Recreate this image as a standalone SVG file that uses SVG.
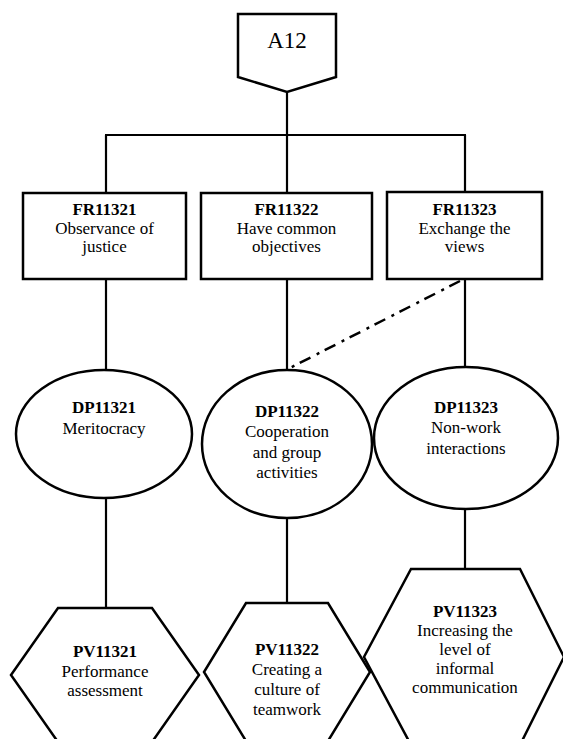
<svg xmlns="http://www.w3.org/2000/svg" width="563" height="739" viewBox="0 0 563 739">
  <style>
    .shape { fill: #fff; stroke: #000; stroke-width: 2.5; }
    .link { stroke: #000; stroke-width: 2.2; fill: none; }
    .dashdot { stroke: #000; stroke-width: 2.5; fill: none; stroke-dasharray: 12 6 3 7; }
    text { font-family: "Liberation Serif", "Times New Roman", "DejaVu Serif", serif; font-size: 17px; text-anchor: middle; fill: #000; }
    .id { font-weight: bold; }
    .top { font-size: 23px; }
  </style>
  <rect width="563" height="739" fill="#fff"/>

  <!-- connectors -->
  <g id="connectors">
    <line class="link" x1="287" y1="92" x2="287" y2="135"/>
    <line class="link" x1="105" y1="135" x2="466" y2="135"/>
    <line class="link" x1="106" y1="135" x2="106" y2="193"/>
    <line class="link" x1="287" y1="135" x2="287" y2="192"/>
    <line class="link" x1="465" y1="135" x2="465" y2="192"/>
    <line class="link" x1="106" y1="279" x2="106" y2="370"/>
    <line class="link" x1="287" y1="279" x2="287" y2="371"/>
    <line class="link" x1="465" y1="279" x2="465" y2="367"/>
    <line class="link" x1="106" y1="498" x2="106" y2="608"/>
    <line class="link" x1="287" y1="518" x2="287" y2="603"/>
    <line class="link" x1="465" y1="509" x2="465" y2="569"/>
    <line class="dashdot" x1="460" y1="281" x2="288" y2="369"/>
  </g>

  <!-- top node -->
  <g id="A12">
    <polygon class="shape" points="238,14 336,14 336,77 287,92 238,77"/>
    <text class="top" x="287" y="48">A12</text>
  </g>

  <!-- functional requirements -->
  <g id="FR11321">
    <rect class="shape" x="23" y="193" width="163" height="86"/>
    <text class="id" x="104.5" y="215">FR11321</text>
    <text x="104.5" y="234">Observance of</text>
    <text x="104.5" y="252">justice</text>
  </g>
  <g id="FR11322">
    <rect class="shape" x="201" y="193" width="171" height="86"/>
    <text class="id" x="286.5" y="215">FR11322</text>
    <text x="286.5" y="234">Have common</text>
    <text x="286.5" y="252">objectives</text>
  </g>
  <g id="FR11323">
    <rect class="shape" x="387" y="192" width="155" height="87"/>
    <text class="id" x="464.5" y="215">FR11323</text>
    <text x="464.5" y="234">Exchange the</text>
    <text x="464.5" y="252">views</text>
  </g>

  <!-- design parameters -->
  <g id="DP11321">
    <ellipse class="shape" cx="104" cy="434" rx="88" ry="64"/>
    <text class="id" x="104" y="413">DP11321</text>
    <text x="104" y="434">Meritocracy</text>
  </g>
  <g id="DP11322">
    <ellipse class="shape" cx="287" cy="444" rx="85" ry="74"/>
    <text class="id" x="287" y="417">DP11322</text>
    <text x="287" y="437">Cooperation</text>
    <text x="287" y="458">and group</text>
    <text x="287" y="478">activities</text>
  </g>
  <g id="DP11323">
    <ellipse class="shape" cx="466" cy="438" rx="92" ry="71"/>
    <text class="id" x="466" y="413">DP11323</text>
    <text x="466" y="433">Non-work</text>
    <text x="466" y="454">interactions</text>
  </g>

  <!-- process variables -->
  <g id="PV11321">
    <polygon class="shape" points="58,608 152,608 199,675 152,742 58,742 11,675"/>
    <text class="id" x="105" y="657">PV11321</text>
    <text x="105" y="677">Performance</text>
    <text x="105" y="696">assessment</text>
  </g>
  <g id="PV11322">
    <polygon class="shape" points="246,603 328,603 370,672 328,741 246,741 204,672"/>
    <text class="id" x="287" y="655">PV11322</text>
    <text x="287" y="675">Creating a</text>
    <text x="287" y="695">culture of</text>
    <text x="287" y="715">teamwork</text>
  </g>
  <g id="PV11323">
    <polygon class="shape" points="411,569 520,569 564,657 520,745 411,745 364,657"/>
    <text class="id" x="465" y="617">PV11323</text>
    <text x="465" y="636">Increasing the</text>
    <text x="465" y="655">level of</text>
    <text x="465" y="674">informal</text>
    <text x="465" y="693">communication</text>
  </g>
</svg>
